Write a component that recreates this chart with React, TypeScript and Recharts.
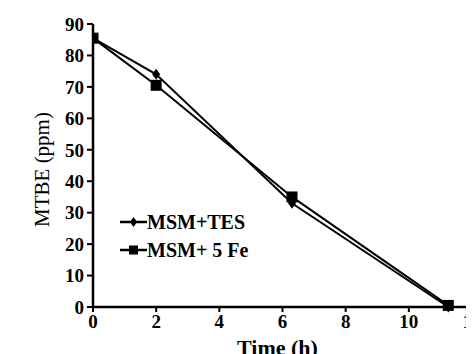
import React from "react";
import {
  Label,
  Legend,
  Line,
  LineChart,
  XAxis,
  YAxis,
} from "recharts";

const SERIES_NAMES = ["MSM+TES", "MSM+ 5 Fe"];
const TIME_TES = [0, 2, 6.3, 11.25];
const MTBE_TES = [85.5, 74, 33, 0];
const TIME_FE = [0, 2, 6.3, 11.25];
const MTBE_FE = [85.5, 70.5, 35, 0.5];
const X_TICKS = [0, 2, 4, 6, 8, 10, 12];
const Y_TICKS = [0, 10, 20, 30, 40, 50, 60, 70, 80, 90];

const FONT = "Liberation Serif, Times New Roman, DejaVu Serif, serif";

const tesData = TIME_TES.map((t, i) => ({ t, v: MTBE_TES[i] }));
const feData = TIME_FE.map((t, i) => ({ t, v: MTBE_FE[i] }));

function Diamond(props: any) {
  const { cx, cy, index } = props;
  return (
    <polygon
      key={`dia-${index}`}
      points={`${cx},${cy - 5.5} ${cx + 4},${cy} ${cx},${cy + 5.5} ${cx - 4},${cy}`}
      fill="#000"
    />
  );
}

function Square(props: any) {
  const { cx, cy, index } = props;
  return (
    <rect key={`sq-${index}`} x={cx - 5.5} y={cy - 5.5} width={11} height={11} fill="#000" />
  );
}

function LegendBox() {
  const row = (name: string, marker: React.ReactNode) => (
    <div key={name} style={{ display: "flex", alignItems: "center", height: 28 }}>
      <svg width={27} height={14}>
        <line x1={0} x2={27} y1={7} y2={7} stroke="#000" strokeWidth={2.5} />
        {marker}
      </svg>
      <span
        style={{ marginLeft: 0, fontFamily: FONT, fontSize: 20, fontWeight: "bold", color: "#000" }}
      >
        {name}
      </span>
    </div>
  );
  return (
    <div>
      {row(SERIES_NAMES[0], <polygon points="13.5,2 17,7 13.5,12 10,7" fill="#000" />)}
      {row(SERIES_NAMES[1], <rect x={9} y={2.5} width={9} height={9} fill="#000" />)}
    </div>
  );
}

export default function App() {
  const tick = { fill: "#000", fontSize: 19, fontWeight: "bold", fontFamily: FONT };
  return (
    <div style={{ width: 466, height: 346, overflow: "hidden", background: "#fff" }}>
      <LineChart
        width={500}
        height={370}
        margin={{ top: 16, right: 36, bottom: 0, left: 0 }}
      >
        <XAxis
          type="number"
          dataKey="t"
          domain={[0, 12]}
          ticks={X_TICKS}
          interval={0}
          tick={tick}
          tickSize={5}
          tickMargin={3}
          height={71}
          axisLine={{ stroke: "#000", strokeWidth: 2.5 }}
          tickLine={{ stroke: "#000", strokeWidth: 2 }}
          allowDataOverflow
        >
          <Label
            content={(p: any) => {
              const vb = p.viewBox;
              return (
                <text
                  x={vb.x + vb.width / 2 - 5}
                  y={vb.y + 48}
                  textAnchor="middle"
                  fontFamily={FONT}
                  fontSize={22}
                  fontWeight="bold"
                  fill="#000"
                >
                  Time (h)
                </text>
              );
            }}
          />
        </XAxis>
        <YAxis
          type="number"
          domain={[0, 90]}
          ticks={Y_TICKS}
          interval={0}
          tick={tick}
          tickSize={6}
          tickMargin={3}
          width={85}
          axisLine={{ stroke: "#000", strokeWidth: 2.5 }}
          tickLine={{ stroke: "#000", strokeWidth: 2 }}
        >
          <Label
            content={(p: any) => {
              const vb = p.viewBox;
              const x = vb.x + 34;
              const y = vb.y + vb.height / 2 + 4;
              return (
                <text
                  x={x}
                  y={y}
                  transform={`rotate(-90, ${x}, ${y})`}
                  textAnchor="middle"
                  dominantBaseline="central"
                  fontFamily={FONT}
                  fontSize={21}
                  fill="#000"
                >
                  MTBE (ppm)
                </text>
              );
            }}
          />
        </YAxis>
        <Legend
          content={() => <LegendBox />}
          layout="vertical"
          verticalAlign="middle"
          align="center"
          wrapperStyle={{ left: 112, top: 200, width: 200 }}
        />
        <Line
          data={tesData}
          dataKey="v"
          name={SERIES_NAMES[0]}
          stroke="#000"
          strokeWidth={2}
          dot={Diamond}
          activeDot={false}
          isAnimationActive={false}
        />
        <Line
          data={feData}
          dataKey="v"
          name={SERIES_NAMES[1]}
          stroke="#000"
          strokeWidth={2}
          dot={Square}
          activeDot={false}
          isAnimationActive={false}
        />
      </LineChart>
    </div>
  );
}
